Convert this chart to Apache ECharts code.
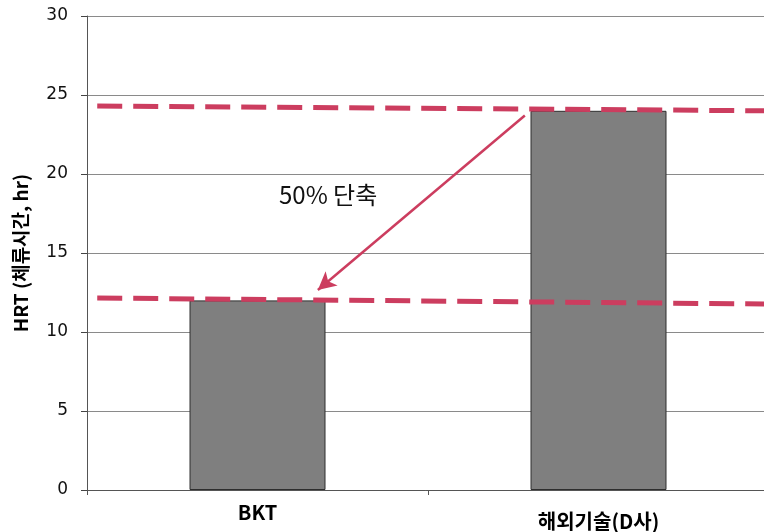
<!DOCTYPE html>
<html>
<head>
<meta charset="utf-8">
<style>
  html, body { margin: 0; padding: 0; background: #ffffff; }
  #chart { width: 764px; height: 532px; }
</style>
<script src="https://cdn.jsdelivr.net/npm/echarts@6/dist/echarts.min.js"></script>
</head>
<body>
<div id="chart"></div>
<script>
// Categories and hydraulic retention time values (hr)
const categories = ['BKT', '해외기술(D사)'];
const hrtValues = [12, 24];

// Y axis ticks
const yMin = 0, yMax = 30, yStep = 5;

// Reference dashed levels: [x position on category scale, value] at each end
const upperLevel = [[-0.47, 24.3], [1.5, 24.0]];
const lowerLevel = [[-0.47, 12.15], [1.5, 11.77]];

// Reduction arrow: from the top of the foreign-technology bar toward the BKT level
const arrowFrom = [0.784, 23.7];
const arrowTo = [0.177, 12.66];
const arrowText = '50% 단축';

const red = '#cc3d5f';
const chart = echarts.init(document.getElementById('chart'));

chart.setOption({
  backgroundColor: '#ffffff',
  animation: false,
  grid: { left: 87, top: 16, width: 682, height: 474, containLabel: false, outerBoundsMode: 'none' },
  xAxis: [
    {
      type: 'category',
      data: categories,
      boundaryGap: true,
      axisLine: { show: true, onZero: false, lineStyle: { color: '#555', width: 1 } },
      axisTick: { show: true, length: 5, lineStyle: { color: '#555' } },
      axisLabel: {
        margin: 12,
        formatter: function (v) { return v === 'BKT' ? '{a|' + v + '}' : '{b|' + v + '}'; },
        rich: {
          a: { fontFamily: 'Noto Sans CJK KR', fontWeight: 'bold', fontSize: 20, color: '#000' },
          b: { fontFamily: 'Noto Sans CJK KR', fontWeight: 'bold', fontSize: 20, color: '#000', padding: [9, 0, 0, 0] }
        }
      }
    },
    {
      type: 'value',
      min: -0.5,
      max: 1.5,
      show: false
    }
  ],
  yAxis: {
    type: 'value',
    min: yMin,
    max: yMax,
    interval: yStep,
    name: 'HRT (체류시간, hr)',
    nameLocation: 'middle',
    nameRotate: 90,
    nameGap: 57,
    nameTextStyle: { fontFamily: 'Noto Sans CJK KR', fontWeight: 'bold', fontSize: 19, color: '#000' },
    axisLine: { show: true, onZero: false, lineStyle: { color: '#555', width: 1 } },
    axisTick: { show: true, length: 6, lineStyle: { color: '#444' } },
    axisLabel: { fontFamily: 'DejaVu Sans', fontSize: 17, color: '#111', margin: 19 },
    splitLine: { show: true, lineStyle: { color: '#8a8a8a', width: 1 } }
  },
  series: [
    {
      type: 'bar',
      data: hrtValues,
      barWidth: 136,
      itemStyle: { color: '#7f7f7f', borderColor: '#2e2e2e', borderWidth: 1 },
      z: 2
    },
    {
      type: 'line',
      xAxisIndex: 1,
      data: upperLevel,
      symbol: 'none',
      lineStyle: { color: red, width: 5, type: [25, 11] },
      z: 4
    },
    {
      type: 'line',
      xAxisIndex: 1,
      data: lowerLevel,
      symbol: 'none',
      lineStyle: { color: red, width: 5, type: [25, 11] },
      z: 4
    },
    {
      type: 'line',
      xAxisIndex: 1,
      data: [],
      markLine: {
        silent: true,
        symbol: ['none', 'arrow'],
        symbolSize: [14, 18],
        label: { show: false },
        lineStyle: { color: red, width: 2.5, type: 'solid' },
        data: [[{ coord: arrowFrom }, { coord: arrowTo }]]
      },
      z: 5
    }
  ],
  graphic: [
    {
      type: 'text',
      left: 279,
      top: 183,
      style: {
        text: arrowText,
        font: '24px "Noto Sans CJK KR"',
        fill: '#111'
      }
    }
  ]
});
</script>
</body>
</html>
